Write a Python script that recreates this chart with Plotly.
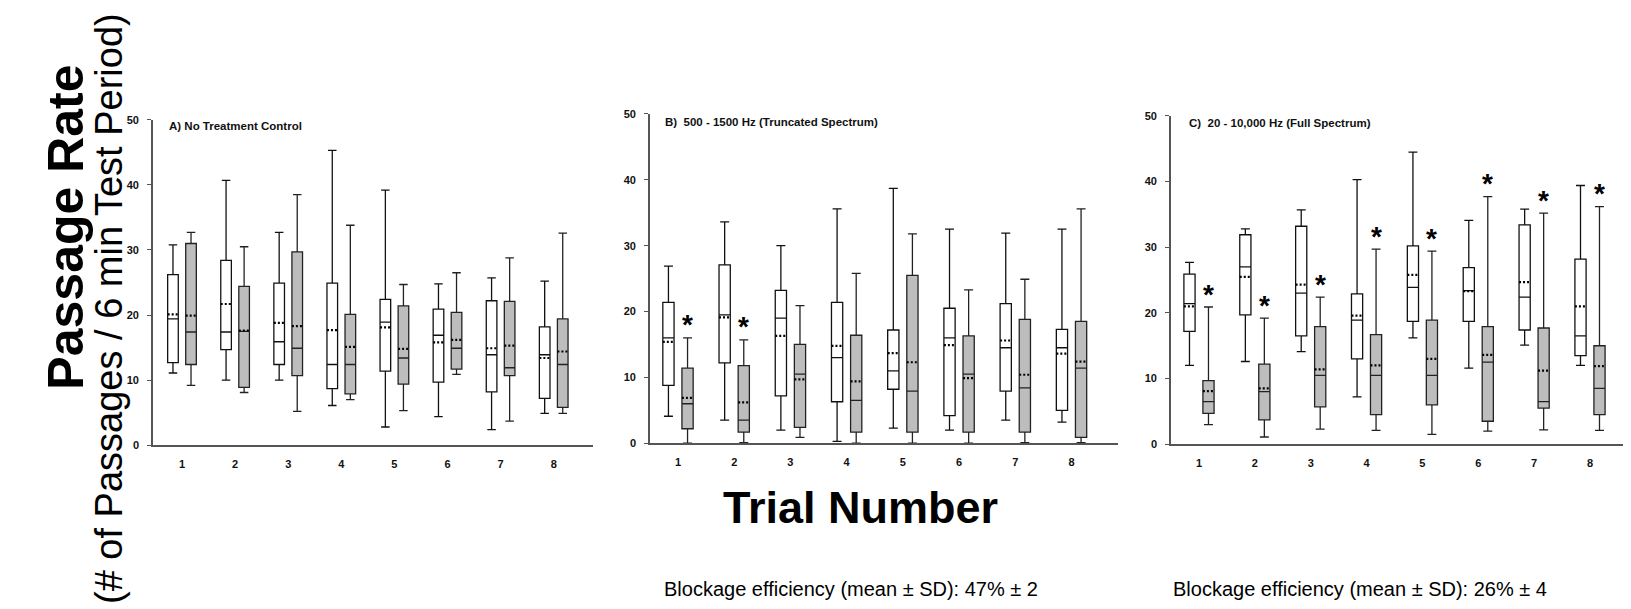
import plotly.graph_objects as go

trials = [1, 2, 3, 4, 5, 6, 7, 8]
tick_labels = ["1", "2", "3", "4", "5", "6", "7", "8"]

# ---------- Panel A: No Treatment Control ----------
a_w_upper = [30.8, 40.7, 32.7, 45.3, 39.2, 24.8, 25.7, 25.2]
a_w_q3 = [26.2, 28.4, 24.9, 24.9, 22.4, 20.9, 22.2, 18.2]
a_w_median = [19.4, 17.4, 15.9, 12.4, 18.9, 16.9, 13.9, 13.9]
a_w_mean = [20.1, 21.7, 18.8, 17.7, 18.1, 15.8, 14.9, 13.4]
a_w_q1 = [12.7, 14.7, 12.4, 8.7, 11.4, 9.7, 8.2, 7.2]
a_w_lower = [11.1, 10.0, 10.0, 6.1, 2.8, 4.4, 2.4, 4.9]

a_g_upper = [32.7, 30.5, 38.5, 33.8, 24.7, 26.5, 28.8, 32.6]
a_g_q3 = [31.0, 24.4, 29.7, 20.1, 21.4, 20.4, 22.1, 19.4]
a_g_median = [17.4, 17.5, 14.9, 12.4, 13.4, 14.9, 11.9, 12.4]
a_g_mean = [19.9, 17.6, 18.3, 15.1, 14.8, 16.2, 15.3, 14.4]
a_g_q1 = [12.4, 8.9, 10.7, 7.9, 9.4, 11.7, 10.7, 5.8]
a_g_lower = [9.2, 8.1, 5.2, 7.0, 5.3, 10.9, 3.7, 4.9]
a_sig = [0, 0, 0, 0, 0, 0, 0, 0]

# ---------- Panel B: 500 - 1500 Hz ----------
b_w_upper = [26.9, 33.6, 30.0, 35.6, 38.7, 32.5, 31.9, 32.5]
b_w_q3 = [21.4, 27.1, 23.2, 21.4, 17.2, 20.5, 21.2, 17.3]
b_w_median = [16.0, 19.5, 19.0, 13.0, 11.0, 16.0, 14.5, 14.5]
b_w_mean = [15.4, 19.1, 16.3, 14.8, 13.7, 14.9, 15.6, 13.6]
b_w_q1 = [8.8, 12.2, 7.2, 6.3, 8.2, 4.2, 7.9, 5.0]
b_w_lower = [4.1, 3.5, 2.0, 0.3, 2.3, 2.0, 3.5, 3.2]

b_g_upper = [16.0, 15.7, 20.9, 25.8, 31.8, 23.3, 24.9, 35.6]
b_g_q3 = [11.4, 11.8, 15.0, 16.4, 25.5, 16.3, 18.8, 18.5]
b_g_median = [6.0, 3.5, 10.5, 6.5, 7.9, 10.5, 8.4, 11.4]
b_g_mean = [6.9, 6.2, 9.7, 9.4, 12.3, 9.9, 10.4, 12.4]
b_g_q1 = [2.2, 1.7, 2.4, 1.7, 1.7, 1.7, 1.7, 0.9]
b_g_lower = [0.0, 0.1, 0.9, 0.0, 0.0, 0.0, 0.1, 0.1]
b_sig = [1, 1, 0, 0, 0, 0, 0, 0]

# ---------- Panel C: 20 - 10,000 Hz ----------
c_w_upper = [27.7, 32.8, 35.7, 40.3, 44.5, 34.1, 35.8, 39.4]
c_w_q3 = [25.9, 31.9, 33.2, 22.9, 30.2, 26.9, 33.4, 28.2]
c_w_median = [21.4, 27.0, 23.0, 18.9, 23.9, 23.4, 22.4, 16.5]
c_w_mean = [21.0, 25.5, 24.3, 19.6, 25.8, 23.3, 24.7, 21.0]
c_w_q1 = [17.2, 19.7, 16.5, 13.0, 18.7, 18.7, 17.4, 13.5]
c_w_lower = [12.0, 12.6, 14.1, 7.2, 16.2, 11.6, 15.1, 12.0]

c_g_upper = [20.9, 19.2, 22.4, 29.7, 29.4, 37.7, 35.2, 36.2]
c_g_q3 = [9.7, 12.2, 17.9, 16.7, 18.9, 17.9, 17.7, 15.0]
c_g_median = [6.5, 8.0, 10.5, 10.5, 10.5, 12.5, 6.5, 8.5]
c_g_mean = [8.1, 8.5, 11.4, 12.0, 13.0, 13.6, 11.2, 11.9]
c_g_q1 = [4.7, 3.7, 5.7, 4.5, 6.0, 3.5, 5.5, 4.5]
c_g_lower = [3.0, 1.1, 2.3, 2.1, 1.5, 2.0, 2.2, 2.1]
c_sig = [1, 1, 1, 1, 1, 1, 1, 1]

panel_titles = ["A) No Treatment Control",
                "B)  500 - 1500 Hz (Truncated Spectrum)",
                "C)  20 - 10,000 Hz (Full Spectrum)"]
efficiency_notes = ["", "Blockage efficiency (mean \u00b1 SD): 47% \u00b1 2",
                    "Blockage efficiency (mean \u00b1 SD): 26% \u00b1 4"]

panels = [
    dict(w=(a_w_upper, a_w_q3, a_w_median, a_w_mean, a_w_q1, a_w_lower),
         g=(a_g_upper, a_g_q3, a_g_median, a_g_mean, a_g_q1, a_g_lower), sig=a_sig),
    dict(w=(b_w_upper, b_w_q3, b_w_median, b_w_mean, b_w_q1, b_w_lower),
         g=(b_g_upper, b_g_q3, b_g_median, b_g_mean, b_g_q1, b_g_lower), sig=b_sig),
    dict(w=(c_w_upper, c_w_q3, c_w_median, c_w_mean, c_w_q1, c_w_lower),
         g=(c_g_upper, c_g_q3, c_g_median, c_g_mean, c_g_q1, c_g_lower), sig=c_sig),
]

# ---- layout geometry: target positions in the 1631 x 609 window ----
PAGE_MARGIN = 8            # default body margin of the html page
W = 1631 - PAGE_MARGIN
H = 609 - PAGE_MARGIN


def px(x):                 # window x pixel -> paper fraction
    return (x - PAGE_MARGIN) / W


def py(y):                 # window y pixel (from top) -> paper fraction
    return (H - (y - PAGE_MARGIN)) / H


x_domains = [(153, 593), (650, 1118), (1171, 1631)]
x_ranges = [(0.454, 8.74), (0.502, 8.827), (0.499, 8.734)]
y_domains = [(448, 116), (446, 110), (447, 112)]
title_pos = [(167, 122), (663, 118), (1187, 119)]

BOX_W = 0.2
OFF = 0.17
FONT = "Liberation Sans, Arial, sans-serif"

fig = go.Figure()
annotations = []

for p, panel in enumerate(panels):
    xa = "x" if p == 0 else f"x{p+1}"
    ya = "y" if p == 0 else f"y{p+1}"
    for key, shift, fill, lc in (("w", -OFF, "white", "#111111"), ("g", OFF, "#bdbdbd", "#222222")):
        up, q3, med, mean, q1, lo = panel[key]
        pos = [t + shift for t in trials]
        fig.add_trace(go.Box(
            x=pos, q1=q1, median=med, q3=q3, lowerfence=lo, upperfence=up,
            width=BOX_W, whiskerwidth=0.8, fillcolor=fill,
            line=dict(color=lc, width=1.3), boxpoints=False,
            xaxis=xa, yaxis=ya, showlegend=False, hoverinfo="skip"))
        mx, my = [], []
        for xp, m in zip(pos, mean):
            mx += [xp - BOX_W / 2, xp + BOX_W / 2, None]
            my += [m, m, None]
        fig.add_trace(go.Scatter(
            x=mx, y=my, mode="lines", line=dict(color="black", width=2.2, dash="2px,2px"),
            xaxis=xa, yaxis=ya, showlegend=False, hoverinfo="skip"))
    # significance stars
    g_up = panel["g"][0]
    for t, s, u in zip(trials, panel["sig"], g_up):
        if s:
            annotations.append(dict(
                x=t + OFF, y=u, xref=xa, yref=ya, text="*", showarrow=False,
                xanchor="center", yanchor="middle", yshift=13,
                font=dict(family=FONT, size=28, color="black", weight="bold")))

    d0, d1 = x_domains[p]
    y0, y1 = y_domains[p]
    fig.update_layout(**{
        ("xaxis" if p == 0 else f"xaxis{p+1}"): dict(
            domain=[px(d0), min(1.0, px(d1))], range=list(x_ranges[p]), anchor=ya,
            tickvals=trials, ticktext=tick_labels, ticks="", showgrid=False, zeroline=False,
            showline=True, linecolor="#555555", linewidth=1.6, ticklabelstandoff=8,
            tickfont=dict(family=FONT, size=11, color="#111111", weight="bold")),
        ("yaxis" if p == 0 else f"yaxis{p+1}"): dict(
            domain=[py(y0), py(y1)], range=[0, 50], anchor=xa,
            tickvals=[0, 10, 20, 30, 40, 50], ticks="outside", ticklen=4, tickwidth=1.4,
            tickcolor="#555555", showgrid=False, zeroline=False,
            showline=True, linecolor="#555555", linewidth=1.6, ticklabelstandoff=6,
            tickfont=dict(family=FONT, size=11, color="#111111", weight="bold")),
    })
    tx, ty = title_pos[p]
    annotations.append(dict(
        x=px(tx), y=py(ty), xref="paper", yref="paper", xanchor="left", yanchor="middle",
        text=panel_titles[p], showarrow=False,
        font=dict(family=FONT, size=11.5, color="#111111", weight="bold")))

# shared axis titles and notes
annotations.append(dict(
    x=px(66), y=py(226), xref="paper", yref="paper", text="<b>Passage Rate</b>",
    xanchor="center", yanchor="middle",
    textangle=-90, showarrow=False, font=dict(family=FONT, size=50, color="black")))
annotations.append(dict(
    x=px(109), y=py(309), xref="paper", yref="paper",
    text="(# of Passages / 6 min Test Period)", xanchor="center", yanchor="middle",
    textangle=-90, showarrow=False, font=dict(family=FONT, size=38, color="black")))
annotations.append(dict(
    x=px(860), y=py(512), xref="paper", yref="paper", text="<b>Trial Number</b>",
    xanchor="center", yanchor="middle",
    showarrow=False, font=dict(family=FONT, size=45, color="black")))
for xc, note in zip((0, 851, 1360), efficiency_notes):
    if note:
        annotations.append(dict(
            x=px(xc), y=py(595), xref="paper", yref="paper", text=note,
            xanchor="center", yanchor="middle",
            showarrow=False, font=dict(family=FONT, size=20, color="black")))

fig.update_layout(
    width=W, height=H, margin=dict(l=0, r=0, t=0, b=0),
    paper_bgcolor="white", plot_bgcolor="white", boxmode="overlay",
    annotations=annotations)

fig.write_html("out.html")
